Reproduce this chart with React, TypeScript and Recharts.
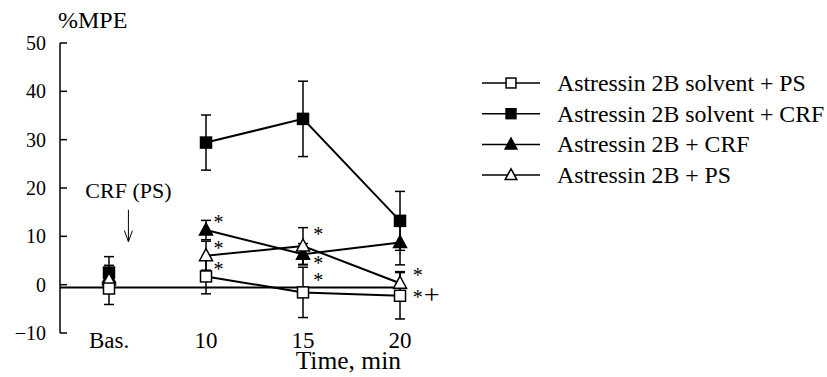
// %MPE over time after CRF / PS, with and without Astressin 2B.
// Baseline point is drawn on its own; the time points are joined by lines.
import {
  ComposedChart,
  ErrorBar,
  Legend,
  Line,
  ReferenceDot,
  ReferenceLine,
  Scatter,
  XAxis,
  YAxis,
} from "recharts";

const xPos = [5, 10, 15, 20];
const xLabels = ["Bas.", "10", "15", "20"];
const yTicks = [-10, 0, 10, 20, 30, 40, 50];

const solventPS = [-0.8, 1.7, -1.6, -2.3];
const solventPSErr = [3.3, 3.6, 5.2, 4.8];
const solventCRF = [2.5, 29.4, 34.3, 13.2];
const solventCRFErr = [3.3, 5.7, 7.8, 6.1];
const astCRF = [1.5, 11.3, 6.3, 8.7];
const astCRFErr = [2.5, 2.0, 2.2, 4.6];
const astPS = [1.0, 6.0, 8.0, 0.3];
const astPSErr = [2.5, 3.0, 3.8, 2.4];

const baselineLevel = -0.6;

const starX = [10.65, 10.65, 10.65, 15.78, 15.78, 15.78, 20.92, 20.92];
const starY = [13.4, 7.9, 3.7, 10.8, 4.8, 1.4, 2.5, -2.1];
const starMarks = ["*", "*", "*", "*", "*", "*", "*", "*+"];

const arrowX = 6;
const arrowLabelY = 18;
const arrowTop = 15.5;
const arrowTip = 8.9;

type Kind = "sqOpen" | "sqFill" | "triFill" | "triOpen";

const series: { name: string; values: number[]; errs: number[]; kind: Kind }[] = [
  { name: "Astressin 2B solvent + CRF", values: solventCRF, errs: solventCRFErr, kind: "sqFill" },
  { name: "Astressin 2B + CRF", values: astCRF, errs: astCRFErr, kind: "triFill" },
  { name: "Astressin 2B + PS", values: astPS, errs: astPSErr, kind: "triOpen" },
  { name: "Astressin 2B solvent + PS", values: solventPS, errs: solventPSErr, kind: "sqOpen" },
];

const legendOrder: Kind[] = ["sqOpen", "sqFill", "triFill", "triOpen"];

const FONT = "Liberation Serif";
const txt = { fontFamily: FONT };

function Marker({ cx, cy, kind, size = 1 }: { cx: number; cy: number; kind: Kind; size?: number }) {
  if (cx == null || cy == null) return null;
  const fill = kind === "sqFill" || kind === "triFill" ? "#000" : "#fff";
  if (kind === "sqOpen" || kind === "sqFill") {
    const h = 5.5 * size;
    return <rect x={cx - h} y={cy - h} width={h * 2} height={h * 2} fill={fill} stroke="#000" strokeWidth={1.5} />;
  }
  const w = 6.5 * size;
  return (
    <polygon
      points={`${cx},${cy - 7 * size} ${cx - w},${cy + 5 * size} ${cx + w},${cy + 5 * size}`}
      fill={fill}
      stroke="#000"
      strokeWidth={1.5}
    />
  );
}

const YTick = ({ x, y, payload }: any) => (
  <g>
    <line x1={x} x2={x + 7} y1={y} y2={y} stroke="#000" strokeWidth={1.5} />
    <text x={x - 14} y={y + 7} textAnchor="end" fontSize={20} fill="#000" style={txt}>
      {payload.value < 0 ? `\u2212${Math.abs(payload.value)}` : payload.value}
    </text>
  </g>
);

const XTick = ({ x, y, payload }: any) => (
  <text x={x} y={y + 15} textAnchor="middle" fontSize={23} fill="#000" style={txt}>
    {xLabels[xPos.indexOf(payload.value)]}
  </text>
);

const StarShape = (p: any) => {
  const mark: string = p.payload.mark;
  return (
    <g>
      <text x={p.cx} y={p.cy + 9} textAnchor="middle" fontSize={20} fill="#000" style={txt}>*</text>
      {mark.includes("+") && (
        <text x={p.cx + 6} y={p.cy + 9} fontSize={28} fill="#000" style={txt}>+</text>
      )}
    </g>
  );
};

function LegendBox() {
  return (
    <svg width={360} height={130} style={{ display: "block" }}>
      {legendOrder.map((k, i) => {
        const s = series.find(q => q.kind === k)!;
        const cy = 23 + i * 30.7;
        return (
          <g key={k}>
            <line x1={12} x2={70} y1={cy} y2={cy} stroke="#000" strokeWidth={1.5} />
            <Marker cx={41} cy={cy} kind={k} size={0.9} />
            <text x={87} y={cy + 8} fontSize={23.8} fill="#000" style={txt}>
              {s.name}
            </text>
          </g>
        );
      })}
    </svg>
  );
}

export default function App() {
  const stars = starX.map((x, i) => ({ x, y: starY[i], mark: starMarks[i] }));
  const built = series.map(s => {
    const pts = xPos.map((x, i) => ({ x, y: s.values[i], e: s.errs[i] }));
    return { ...s, bas: pts.slice(0, 1), run: pts.slice(1) };
  });

  return (
    <div style={{ position: "absolute", left: 0, top: 0, background: "#fff", fontFamily: FONT }}>
      <ComposedChart
        width={827}
        height={377}
        margin={{ top: 43, right: 407, bottom: 0, left: 0 }}
        style={txt}
      >
        <XAxis
          dataKey="x"
          type="number"
          domain={[2.474, 21.03]}
          ticks={xPos}
          interval={0}
          axisLine={false}
          tickLine={false}
          tickSize={0}
          tickMargin={0}
          height={44}
          tick={<XTick />}
          label={(props: any) => {
            const vb = props.viewBox ?? { x: 60, y: 333 };
            return (
              <text x={vb.x + 341} y={vb.y + 36} textAnchor="end" fontSize={25.5} fill="#000" style={txt}>
                Time, min
              </text>
            );
          }}
        />
        <YAxis
          dataKey="y"
          type="number"
          domain={[-10, 50]}
          ticks={yTicks}
          interval={0}
          width={60}
          axisLine={{ stroke: "#000", strokeWidth: 1.5 }}
          tickLine={false}
          tickSize={0}
          tickMargin={0}
          tick={<YTick />}
          label={(props: any) => {
            const vb = props.viewBox ?? { x: 0, y: 43, width: 60 };
            return (
              <text x={vb.x + vb.width - 2} y={vb.y - 15} fontSize={24} fill="#000" style={txt}>
                %MPE
              </text>
            );
          }}
        />
        <ReferenceLine
          segment={[
            { x: 2.474, y: baselineLevel },
            { x: 20, y: baselineLevel },
          ]}
          stroke="#000"
          strokeWidth={2}
        />
        <ReferenceLine
          segment={[
            { x: arrowX, y: arrowTop },
            { x: arrowX, y: arrowTip },
          ]}
          stroke="#000"
          strokeWidth={1}
        />
        <ReferenceDot
          x={arrowX}
          y={arrowTip}
          shape={(p: any) => (
            <path d={`M${p.cx - 4},${p.cy - 11} L${p.cx},${p.cy} L${p.cx + 4},${p.cy - 11}`} fill="none" stroke="#000" strokeWidth={1} />
          )}
        />
        <ReferenceDot
          x={arrowX}
          y={arrowLabelY}
          shape={(p: any) => (
            <text x={p.cx} y={p.cy} textAnchor="middle" fontSize={22} fill="#000" style={txt}>
              CRF (PS)
            </text>
          )}
        />
        {built.map(s => (
          <Scatter
            key={`bas-${s.kind}`}
            data={s.bas}
            fill="#000"
            legendType="none"
            isAnimationActive={false}
            shape={(p: any) => <Marker cx={p.cx} cy={p.cy} kind={s.kind} />}
          >
            <ErrorBar dataKey="e" direction="y" width={5} stroke="#000" strokeWidth={1.5} />
          </Scatter>
        ))}
        {built.map(s => (
          <Line
            key={`run-${s.kind}`}
            data={s.run}
            dataKey="y"
            type="linear"
            stroke="#000"
            strokeWidth={2}
            legendType="none"
            activeDot={false}
            isAnimationActive={false}
            dot={(p: any) => <Marker key={`${s.kind}-${p.index}`} cx={p.cx} cy={p.cy} kind={s.kind} />}
          >
            <ErrorBar dataKey="e" direction="y" width={5} stroke="#000" strokeWidth={1.5} />
          </Line>
        ))}
        <Scatter data={stars} fill="#000" legendType="none" isAnimationActive={false} shape={StarShape} />
        <Legend
          layout="vertical"
          align="center"
          verticalAlign="middle"
          content={() => <LegendBox />}
          wrapperStyle={{ position: "absolute", left: 470, top: 60, width: 360 }}
        />
      </ComposedChart>
    </div>
  );
}
